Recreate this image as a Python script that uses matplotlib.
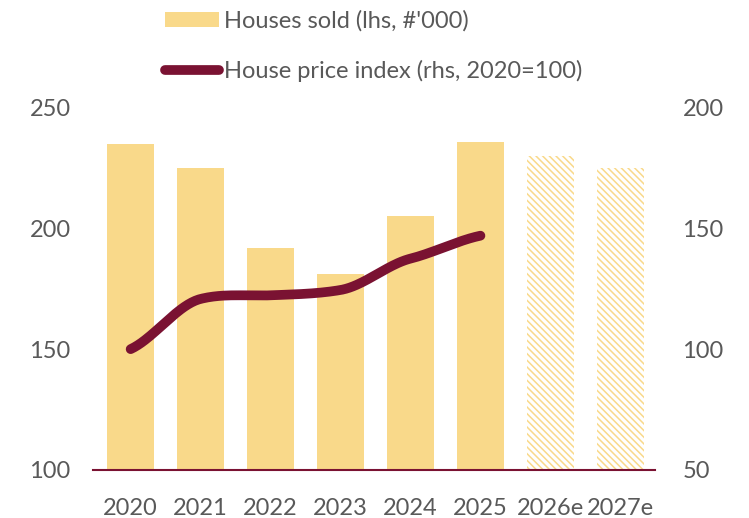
import numpy as np
import matplotlib
matplotlib.use("Agg")
import matplotlib.pyplot as plt
from matplotlib.patches import Patch
from matplotlib.lines import Line2D

years = ["2020", "2021", "2022", "2023", "2024", "2025", "2026e", "2027e"]
houses_sold = [235, 225, 192, 181, 205, 236, 230, 225]
is_estimate = [False, False, False, False, False, False, True, True]
price_index = [100, 120.8, 122.3, 124.5, 137.5, 147]

bar_color = "#F9D98A"
line_color = "#7A1232"
text_color = "#595959"

plt.rcParams["font.family"] = ["Lato", "DejaVu Sans"]
plt.rcParams["hatch.linewidth"] = 1.1
plt.rcParams["hatch.color"] = bar_color


def smooth(xs, ys, tension=0.65, n=40):
    # cardinal spline, a bit tighter than catmull-rom so it doesn't overshoot
    xs = np.asarray(xs, float)
    ys = np.asarray(ys, float)
    m = np.zeros_like(ys)
    m[1:-1] = tension * (ys[2:] - ys[:-2]) / 2
    m[0] = tension * (ys[1] - ys[0])
    m[-1] = tension * (ys[-1] - ys[-2])
    out_x, out_y = [], []
    for i in range(len(xs) - 1):
        t = np.linspace(0, 1, n)
        h00 = 2 * t**3 - 3 * t**2 + 1
        h10 = t**3 - 2 * t**2 + t
        h01 = -2 * t**3 + 3 * t**2
        h11 = t**3 - t**2
        out_x.extend(xs[i] + t * (xs[i + 1] - xs[i]))
        out_y.extend(h00 * ys[i] + h10 * m[i] + h01 * ys[i + 1] + h11 * m[i + 1])
    return np.array(out_x), np.array(out_y)


fig = plt.figure(figsize=(7.49, 5.18), dpi=100)
ax = fig.add_axes([0.124, 0.093, 0.750, 0.699])
x = np.arange(len(years))

for xi, val, est in zip(x, houses_sold, is_estimate):
    if est:
        ax.bar(xi, val - 100, bottom=100, width=0.68, color="none",
               edgecolor=bar_color, linewidth=0, hatch="\\\\\\\\\\")
    else:
        ax.bar(xi, val - 100, bottom=100, width=0.68, color=bar_color, linewidth=0)

ax.set_xlim(-0.54, 7.49)
ax.set_ylim(100, 250)
ax.set_yticks([100, 150, 200, 250])
ax.set_xticks(x)
ax.set_xticklabels(years)

ax2 = ax.twinx()
ax2.set_ylim(50, 200)
ax2.set_yticks([50, 100, 150, 200])
sx, sy = smooth(x[:len(price_index)], price_index)
ax2.plot(sx, sy, color=line_color, linewidth=7, solid_capstyle="round")

for a in (ax, ax2):
    for s in a.spines.values():
        s.set_visible(False)
    a.tick_params(length=0, labelsize=17, labelcolor=text_color)
ax.spines["bottom"].set_visible(True)
ax.spines["bottom"].set_color(line_color)
ax.spines["bottom"].set_linewidth(1.5)
ax.tick_params(axis="y", pad=16)
ax.tick_params(axis="x", pad=20)
ax2.tick_params(axis="y", pad=20)

handles = [Patch(facecolor=bar_color, edgecolor="none"),
           Line2D([0], [0], color=line_color, linewidth=7, solid_capstyle="round")]
labels = ["Houses sold (lhs, #'000)", "House price index (rhs, 2020=100)"]
fig.legend(handles, labels, loc="upper left", bbox_to_anchor=(0.214, 0.99),
           frameon=False, fontsize=17, labelcolor=text_color,
           handlelength=2.3, handleheight=0.6, handletextpad=0.2,
           labelspacing=1.2, borderaxespad=0, borderpad=0.2)

fig.savefig("out.png", dpi=100)
